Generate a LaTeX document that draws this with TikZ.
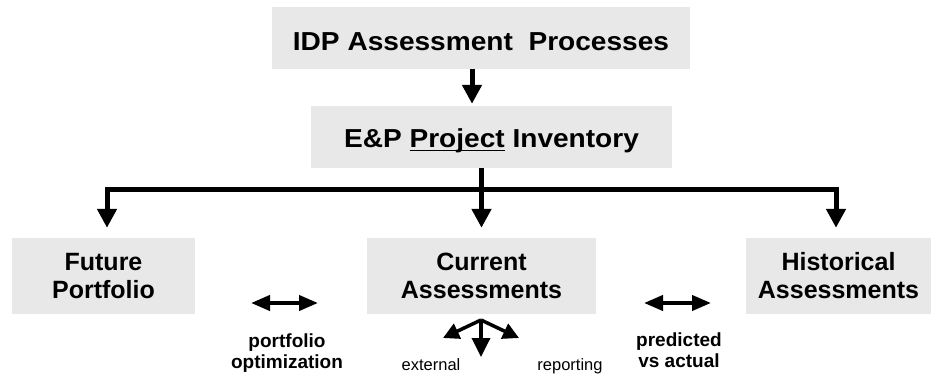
\documentclass[tikz,border=0pt]{standalone}
\usepackage{fontspec}
\setmainfont{Liberation Sans}
\newfontfamily\widefont{Liberation Sans}[FakeStretch=1.08]
\usetikzlibrary{arrows.meta}
\definecolor{boxgray}{RGB}{232,232,232}
% underline drawn a fixed distance below the baseline, ignoring descenders
\newcommand\underword[1]{\setbox0\hbox{#1}\rlap{\rule[-3.5pt]{\wd0}{1.8pt}}\box0\relax}

\begin{document}
\begin{tikzpicture}[x=1pt,y=-1pt,
  box/.style={fill=boxgray, inner sep=0pt, align=center,
    font=\fontsize{25}{28}\selectfont\bfseries},
  headbox/.style={box, font=\widefont\fontsize{26}{28}\selectfont\bfseries},
  note/.style={inner sep=0pt, align=center,
    font=\fontsize{19}{21}\selectfont\bfseries},
  small/.style={inner sep=0pt, anchor=base,
    font=\fontsize{16.5}{20}\selectfont},
  arr/.style={line width=5pt, -{Triangle[width=19pt,length=19pt]}},
  dbl/.style={line width=4pt,
    {Triangle[width=15pt,length=19pt]}-{Triangle[width=15pt,length=19pt]}},
  fan/.style={line width=3.5pt, -{Triangle[width=16pt,length=16pt]}}]
\useasboundingbox (0,0) rectangle (932,374);

% boxes
\node[headbox, minimum width=418pt, minimum height=62pt,
      text height=26pt, text depth=0pt] (top) at (481,38)
  {IDP Assessment~ Processes};
\node[headbox, minimum width=361pt, minimum height=62pt,
      text height=22pt, text depth=0pt] (inv) at (491.5,137)
  {E\&P \underword{Project} Inventory};
\node[box, minimum width=183pt, minimum height=76pt] (fut) at (103.5,276)
  {Future\\Portfolio};
\node[box, minimum width=229pt, minimum height=76pt] (cur) at (481.5,276)
  {Current\\Assessments};
\node[box, minimum width=185pt, minimum height=76pt] (hist) at (838.5,276)
  {Historical\\Assessments};

% top to inventory
\coordinate (a1) at (472,0);
\draw[arr] (top.south -| a1) -- ([yshift=2pt]inv.north -| a1);

% distribution tree
\coordinate (hub) at (481.5,189.5);
\draw[arr] (inv.south -| hub) -- ([yshift=10pt]cur.north);
\draw[arr] (hub) -| ([xshift=3.5pt,yshift=10pt]fut.north);
\draw[arr] (hub) -| ([xshift=-2.5pt,yshift=10pt]hist.north);

% exchanges between assessment groups
\coordinate (p1) at (251,303);
\coordinate (p2) at (318,303);
\draw[dbl] (p1) -- (p2);
\node[note] (popt) at (287,352.7) {portfolio\\optimization};

\coordinate (q1) at (644,303);
\coordinate (q2) at (711,303);
\draw[dbl] (q1) -- (q2);
\node[note] (pva) at (679,350.7) {predicted\\vs actual};

% outputs of current assessments
\coordinate (split) at (481,320);
\coordinate (sl) at (443,338);
\coordinate (sr) at (519,338);
\coordinate (sd) at (481,357);
\draw[fan] (split) -- (sl);
\draw[fan] (split) -- (sr);
\draw[line width=3.5pt, -{Triangle[width=18pt,length=19pt]}] (split) -- (sd);
\node[small] (ext) at (431,370) {external};
\node[small] (rep) at (570,370) {reporting};
\end{tikzpicture}
\end{document}
